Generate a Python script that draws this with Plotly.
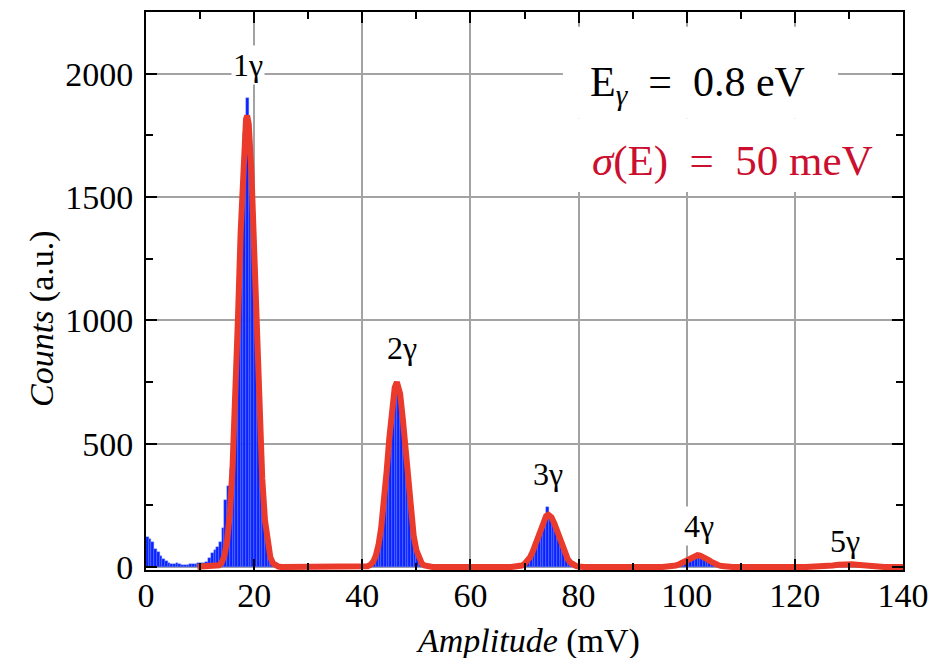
import plotly.graph_objects as go

# ---------------------------------------------------------------------------
# Pulse-height histogram (0.5 mV bins). Each cluster: lower edge of first bin
# and the counts in consecutive bins.
# ---------------------------------------------------------------------------
BIN_W = 0.5

noise_start = 0.0
noise_counts = [123, 115, 100, 75, 60, 45, 33, 25, 18, 13,
                12, 15, 14, 10, 10, 9, 11, 12, 14, 15,
                16, 18, 22, 35, 55, 68, 82, 100, 160, 270]

p1_start = 15.0
p1_counts = [330, 400, 590, 860, 1190, 1520, 1760, 1900, 1720, 1440,
             1090, 750, 470, 260, 130, 62, 28, 12, 5]

p2_start = 40.0
p2_counts = [6, 10, 14, 18, 30, 58, 120, 205, 315, 450, 585, 695, 745,
             735, 660, 540, 400, 275, 170, 98, 50, 24, 10, 4]

p3_start = 69.0
p3_counts = [4, 9, 17, 30, 48, 76, 105, 140, 175, 200, 243, 210, 190,
             165, 130, 95, 65, 42, 24, 13, 6, 3]

p4_start = 97.0
p4_counts = [3, 5, 8, 13, 18, 25, 32, 40, 45, 50, 48, 45, 39, 33, 25,
             18, 12, 8, 5, 3]

p5_start = 126.0
p5_counts = [3, 4, 6, 7, 9, 10, 11, 12, 11, 10, 9, 7, 6, 4, 3]

# ---------------------------------------------------------------------------
# Multi-Gaussian fit curve, sampled per photon peak
# ---------------------------------------------------------------------------
fit_1g_x = [9.5, 12.5, 13.0, 13.5, 14.0, 14.5, 15.0, 15.5, 16.0, 16.5, 17.0,
            17.5, 18.0, 18.5, 18.7, 19.0, 19.5, 20.0, 20.5, 21.0, 21.5, 22.0,
            22.5, 23.0, 23.5, 24.0, 24.5, 25.0]
fit_1g_y = [1, 1, 2, 7, 18, 46, 106, 217, 401, 668, 1003,
            1356, 1653, 1815, 1830, 1796, 1601, 1287, 933, 609, 358, 190,
            91, 39, 15, 5, 2, 0]

fit_2g_x = [39.5, 40.0, 40.5, 41.0, 41.5, 42.0, 42.5, 43.0, 43.5, 44.0, 44.5,
            45.0, 45.5, 46.0, 46.4, 47.0, 47.5, 48.0, 48.5, 49.0, 49.5, 50.0,
            50.5, 51.0, 51.5, 52.0, 52.5, 53.0]
fit_2g_y = [0, 0.4, 1.3, 3.5, 9, 21, 46, 90, 160, 260, 387,
            523, 646, 728, 750, 702, 600, 469, 334, 217, 128, 69,
            34, 15, 6, 2.4, 0.9, 0]

fit_3g_x = [67.5, 68.0, 68.5, 69.0, 69.5, 70.0, 70.5, 71.0, 71.5, 72.0, 72.5,
            73.0, 73.5, 74.0, 74.4, 75.0, 75.5, 76.0, 76.5, 77.0, 77.5, 78.0,
            78.5, 79.0, 79.5, 80.0, 80.5, 81.0]
fit_3g_y = [0, 0.5, 1.3, 3, 6.3, 12.5, 23, 39, 62, 91, 125,
            159, 188, 207, 212, 201, 178, 146, 111, 79, 52, 32,
            18, 9.6, 4.7, 2.2, 1, 0]

fit_4g_x = [95.5, 96.0, 96.5, 97.0, 97.5, 98.0, 98.5, 99.0, 99.5, 100.0,
            100.5, 101.0, 101.5, 102.0, 102.5, 103.0, 103.5, 104.0, 104.5,
            105.0, 105.5, 106.0, 106.5, 107.0, 107.5, 108.0, 108.5]
fit_4g_y = [0.2, 0.5, 1.1, 2.1, 3.8, 6.5, 10.4, 15.6, 22, 29.1,
            36.2, 42.4, 46.5, 48, 46.5, 42.4, 36.2, 29.1, 22,
            15.6, 10.4, 6.5, 3.8, 2.1, 1.1, 0.5, 0]

fit_5g_x = [122.0, 123.0, 124.0, 125.0, 126.0, 127.0, 128.0, 129.0, 129.8,
            130.5, 131.5, 132.5, 133.5, 134.5, 135.5, 136.5, 137.5, 140.0]
fit_5g_y = [0, 0.4, 1.0, 2.2, 4.1, 6.7, 9.4, 11.4, 12,
            11.6, 9.7, 7.0, 4.4, 2.3, 1.1, 0.4, 0, 0]

# Peak labels: text, x (mV), y (counts)
peak_labels = ["1γ", "2γ", "3γ", "4γ", "5γ"]
peak_label_x = [18.9, 47.3, 74.3, 102.3, 129.3]
peak_label_y = [2034, 887, 376, 165, 104]

x_ticks = [0, 20, 40, 60, 80, 100, 120, 140]
y_ticks = [0, 500, 1000, 1500, 2000]

# ---------------------------------------------------------------------------
bar_x, bar_y = [], []
for start, counts in [(noise_start, noise_counts), (p1_start, p1_counts),
                      (p2_start, p2_counts), (p3_start, p3_counts),
                      (p4_start, p4_counts), (p5_start, p5_counts)]:
    for i, c in enumerate(counts):
        bar_x.append(start + BIN_W * (i + 0.5))
        bar_y.append(c)

fit_x = fit_1g_x + fit_2g_x + fit_3g_x + fit_4g_x + fit_5g_x
fit_y = fit_1g_y + fit_2g_y + fit_3g_y + fit_4g_y + fit_5g_y

SERIF = "Liberation Serif"

fig = go.Figure()
fig.add_trace(go.Bar(
    x=bar_x, y=bar_y, width=BIN_W,
    marker=dict(color="#0a22ff", line=dict(color="#6f88ff", width=0.4)),
    showlegend=False, hoverinfo="skip",
))
fig.add_trace(go.Scatter(
    x=fit_x, y=fit_y, mode="lines",
    line=dict(color="#ea3a2c", width=6, shape="linear"),
    showlegend=False, hoverinfo="skip",
))

axis_common = dict(
    showline=True, linecolor="black", linewidth=2, mirror="ticks",
    ticks="inside", ticklen=11, tickwidth=2, tickcolor="black",
    showgrid=True, gridcolor="#a3a3a3", gridwidth=1.5, zeroline=False,
    tickfont=dict(family=SERIF, size=34, color="black"),
    ticklabeloverflow="allow",
)

fig.update_xaxes(
    range=[0, 140], tickmode="array", tickvals=x_ticks,
    ticktext=[str(v) for v in x_ticks],
    minor=dict(dtick=10, tick0=0, ticks="inside", ticklen=7, tickwidth=2,
               tickcolor="black", showgrid=False),
    ticklabelstandoff=-6,
    **axis_common,
)
fig.update_yaxes(
    range=[-12, 2250], tickmode="array", tickvals=y_ticks,
    ticktext=[str(v) for v in y_ticks],
    minor=dict(dtick=250, tick0=0, ticks="inside", ticklen=7, tickwidth=2,
               tickcolor="black", showgrid=False),
    ticklabelstandoff=4,
    **axis_common,
)

# white panels behind the energy / resolution text
fig.add_shape(type="rect", xref="x", yref="y", x0=77.1, x1=128.0,
              y0=1819, y1=2190, fillcolor="white", line_width=0,
              layer="between")
fig.add_shape(type="rect", xref="x", yref="y", x0=76.6, x1=135.5,
              y0=1520, y1=1819, fillcolor="white", line_width=0,
              layer="between")

annotations = []
for t, xv, yv in zip(peak_labels, peak_label_x, peak_label_y):
    annotations.append(dict(
        text=t, x=xv, y=yv, xref="x", yref="y", showarrow=False,
        font=dict(family=SERIF, size=32, color="black"),
        bgcolor="white", borderpad=1, xanchor="center", yanchor="middle",
    ))

annotations += [
    dict(text="E<sub><i>γ</i></sub>  =  0.8 eV", x=81.7, y=1953,
         xref="x", yref="y", showarrow=False, xanchor="left",
         yanchor="middle", font=dict(family=SERIF, size=42, color="black")),
    dict(text="<i>σ</i>(E)  =  50 meV", x=82.2, y=1645,
         xref="x", yref="y", showarrow=False, xanchor="left",
         yanchor="middle", font=dict(family=SERIF, size=43, color="#cc0f2e")),
    dict(text="<i>Counts</i> (a.u.)", x=-0.1374, y=0.4516,
         xref="paper", yref="paper", showarrow=False, textangle=-90,
         xanchor="center", yanchor="middle",
         font=dict(family=SERIF, size=34, color="black")),
    dict(text="<i>Amplitude</i> (mV)", x=0.505, y=-0.127,
         xref="paper", yref="paper", showarrow=False,
         xanchor="center", yanchor="middle",
         font=dict(family=SERIF, size=34, color="black")),
]

fig.update_layout(
    width=928, height=658,
    margin=dict(l=146, r=25, t=12, b=88, pad=0),
    paper_bgcolor="white", plot_bgcolor="white",
    template="none",
    barmode="overlay",
    bargap=0,
    annotations=annotations,
    showlegend=False,
)

fig.write_html("out.html")
